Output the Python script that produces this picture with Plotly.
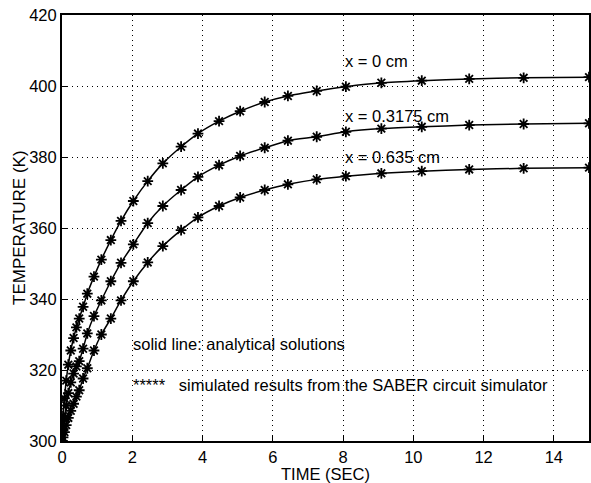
import plotly.graph_objects as go

time_sec = [0, 0.03, 0.07, 0.12, 0.18, 0.25, 0.33, 0.41, 0.49, 0.60, 0.72, 0.91, 1.12, 1.39,
            1.68, 2.03, 2.44, 2.87, 3.39, 3.87, 4.47, 5.07, 5.77, 6.43, 7.25, 8.08, 9.09,
            10.24, 11.59, 13.14, 15.0]
temp_x0 = [300, 307, 312, 317, 321.5, 325.5, 329, 332, 334.5, 337.8, 341.5, 346.3, 351.1, 356.6,
           362.0, 367.6, 373.2, 378.2, 382.9, 386.6, 390.1, 392.9, 395.5, 397.2, 398.6, 399.8,
           400.9, 401.5, 402.0, 402.3, 402.5]
temp_x03175 = [300, 303, 306.5, 310, 313.5, 316.5, 319, 321, 322.5, 326.0, 330.3, 335.2, 339.6,
               345.0, 350.2, 355.4, 361.4, 366.2, 370.7, 374.4, 377.7, 380.3, 382.6, 384.6,
               385.7, 387.1, 388.0, 388.5, 389.0, 389.3, 389.5]
temp_x0635 = [300, 301, 302.5, 304.5, 306.5, 308.5, 310.5, 312.5, 314.3, 317.6, 320.5, 325.5,
              330.0, 334.5, 339.6, 345.0, 350.3, 354.9, 359.4, 363.0, 366.2, 368.6, 370.7,
              372.3, 373.7, 374.6, 375.4, 376.0, 376.5, 376.8, 377.0]

curve_labels = ["x = 0 cm", "x = 0.3175 cm", "x = 0.635 cm"]
label_pos_t = [8.0, 8.0, 8.0]
label_pos_T = [407.0, 391.5, 380.0]

x_ticks = [0, 2, 4, 6, 8, 10, 12, 14]
y_ticks = [300, 320, 340, 360, 380, 400, 420]

FONT = "Liberation Sans, Arial, sans-serif"
ANN = 16.5

fig = go.Figure()
for ys in [temp_x0, temp_x03175, temp_x0635]:
    fig.add_trace(go.Scatter(
        x=time_sec, y=ys, mode="lines+markers",
        line=dict(color="black", width=1.5, shape="spline", smoothing=0.6),
        marker=dict(symbol="asterisk-open", size=9, color="black",
                    line=dict(color="black", width=1.8)),
        showlegend=False,
    ))

for lbl, tx, ty in zip(curve_labels, label_pos_t, label_pos_T):
    fig.add_annotation(x=tx, y=ty, text=lbl, showarrow=False, xanchor="left",
                       yanchor="middle", font=dict(family=FONT, size=ANN, color="black"))

fig.add_annotation(x=1.97, y=327.2, text="solid line: analytical solutions", showarrow=False,
                   xanchor="left", yanchor="middle",
                   font=dict(family=FONT, size=ANN, color="black"))
fig.add_annotation(x=1.97, y=315.7,
                   text="*****&nbsp;&nbsp; simulated results from the SABER circuit simulator",
                   showarrow=False, xanchor="left", yanchor="middle",
                   font=dict(family=FONT, size=ANN, color="black"))

# axis titles
fig.add_annotation(xref="paper", yref="paper", x=0.5, y=(441 - 474) / 426, text="TIME (SEC)",
                   showarrow=False, xanchor="center", yanchor="middle",
                   font=dict(family=FONT, size=16.5, color="black"))
fig.add_annotation(xref="paper", yref="paper", x=(19 - 62) / 527, y=0.5,
                   text="TEMPERATURE (K)", textangle=-90,
                   showarrow=False, xanchor="center", yanchor="middle",
                   font=dict(family=FONT, size=17, color="black"))

axis_common = dict(
    showgrid=True, gridcolor="black", griddash="1px,4px", gridwidth=1.2,
    showline=True, linecolor="black", linewidth=2, mirror=True,
    ticks="inside", ticklen=5, tickcolor="black",
    tickfont=dict(family=FONT, size=16.5, color="black"),
    zeroline=False, automargin=False,
)

fig.update_xaxes(range=[0, 15], tickvals=x_ticks, ticktext=[str(v) for v in x_ticks],
                 **axis_common)
fig.update_yaxes(range=[300, 420], tickvals=y_ticks, ticktext=[str(v) for v in y_ticks],
                 **axis_common)

fig.update_layout(
    width=591, height=483,
    margin=dict(l=62, r=2, t=15, b=42),
    paper_bgcolor="white", plot_bgcolor="white",
    font=dict(family=FONT, color="black"),
)

fig.write_html("out.html", config={"displayModeBar": False},
               post_script="document.body.style.margin='0';document.body.style.padding='0';")
